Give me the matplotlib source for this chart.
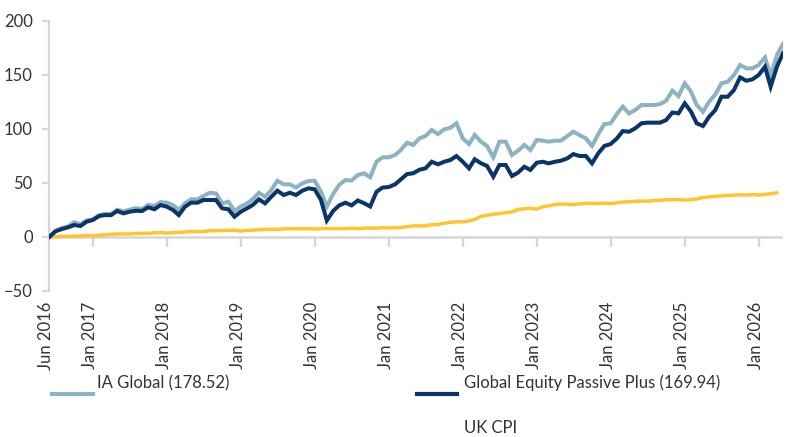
import matplotlib
matplotlib.use("Agg")
import matplotlib.pyplot as plt
import matplotlib.transforms as mtransforms
from matplotlib.lines import Line2D
import pandas as pd

plt.rcParams['font.family'] = ['Lato', 'DejaVu Sans']

start_month = "2016-06-01"

ia_global = [
    0, 5.5, 8, 9.5, 13.5, 11.5, 15, 16, 20, 21,
    21, 25, 23.5, 25, 26.5, 25.5, 29.5, 28.5, 32, 31.5,
    29.3, 24.7, 30.9, 34.6, 34.6, 37.7, 40.7, 40, 30.9, 32.4,
    23.8, 27.8, 30.9, 34.6, 40.7, 37, 43.2, 51.8, 48.5, 48.5,
    45.5, 49.4, 51.5, 51.8, 41.7, 28, 39.5, 48, 52.5, 52,
    57.1, 58.7, 55, 69.4, 73.5, 73.5, 75.6, 80.2, 87, 84.9,
    91, 93.2, 98.8, 95, 99.4, 100.9, 105, 91, 85.8, 94.2,
    88, 84, 73.5, 88, 88, 75.6, 79.6, 84.9, 80.2, 89.5,
    88.9, 88, 88.9, 88.9, 93.2, 97.2, 94, 91, 84, 95,
    104.3, 105, 113.6, 120.4, 114.2, 117.3, 121.9, 121.9, 121.9, 122.8,
    125.9, 135.2, 130.2, 142, 134.3, 121.9, 115.7, 125, 131.8, 142,
    143.5, 149.7, 159, 155.9, 155.9, 159, 166, 148.8, 168, 178.52,
]

global_equity = [
    0, 5, 7.1, 8.7, 10.8, 9.9, 13.9, 15.5, 19.2, 20,
    20, 23.8, 21.6, 23.1, 24, 23.8, 27.2, 25.4, 29.3, 27.8,
    24.7, 20, 27.8, 31.5, 31.5, 34, 34, 34, 26.3, 25.4,
    18.5, 23.1, 26.3, 29.3, 34.6, 30.9, 37, 42.6, 38.6, 40.7,
    38.6, 42.6, 44.8, 43.9, 34, 15, 23.8, 29, 31.5, 29,
    33.5, 31, 28, 41.5, 45.5, 46, 48.5, 53, 58, 58.7,
    62, 63.3, 69.4, 67, 69.4, 71, 74.7, 69.4, 63.3, 71.7,
    68, 65.5, 55.6, 66.4, 66.4, 56.2, 59.3, 64.8, 61.8, 68.5,
    69.4, 67.9, 69.4, 70.4, 72.5, 76.5, 74.7, 74.7, 67.9, 77.2,
    84, 85.8, 91, 97.8, 97.2, 100.3, 105, 105.6, 105.6, 105.6,
    108, 115, 114.2, 123.5, 115.7, 105, 102.5, 111, 117.3, 129.6,
    129.6, 135.8, 147.5, 144.4, 145.7, 149.7, 157.4, 138.9, 157.4, 169.94,
]

uk_cpi = [
    0.0, -0.1, 0.3, 0.4, 0.5, 0.7, 1.2, 0.7, 1.4, 1.8,
    2.2, 2.5, 2.5, 2.5, 3.1, 3.1, 3.2, 3.5, 3.9, 3.3,
    3.8, 3.9, 4.3, 4.7, 4.8, 4.8, 5.5, 5.6, 5.7, 5.9,
    6.1, 5.2, 5.8, 6.0, 6.4, 6.8, 6.8, 6.8, 7.2, 7.4,
    7.3, 7.3, 7.5, 7.1, 7.5, 7.6, 7.4, 7.4, 7.5, 7.9,
    7.4, 7.9, 8.0, 7.9, 8.3, 8.1, 8.3, 8.6, 9.3, 10.0,
    10.0, 10.0, 11.1, 11.3, 12.5, 13.3, 13.8, 13.7, 14.6, 15.9,
    18.9, 19.8, 20.8, 21.5, 22.3, 22.9, 25.3, 25.8, 26.3, 25.6,
    27.8, 28.6, 29.8, 30.2, 30.1, 29.6, 30.4, 30.9, 30.9, 30.7,
    31.2, 30.6, 31.4, 32.1, 32.4, 32.8, 33.0, 32.8, 33.5, 33.6,
    34.3, 34.2, 34.6, 33.8, 34.4, 34.8, 36.4, 36.7, 37.4, 37.8,
    38.3, 38.5, 38.8, 38.6, 39.0, 38.6, 39.2, 39.8, 40.7,
]

series_names = ["IA Global (178.52)", "Global Equity Passive Plus (169.94)", "UK CPI"]
colors = ["#8DB2C2", "#0B3468", "#FFC52F"]

dates = pd.date_range(start_month, periods=len(ia_global), freq="MS")
tick_dates = [dates[0]] + [d for d in dates if d.month == 1]
tick_labels = [d.strftime("%b %Y") for d in tick_dates]

W, H = 789, 437
fig = plt.figure(figsize=(W / 100, H / 100), dpi=100)
ax = fig.add_axes([49.5 / W, 1 - 290.7 / H, (783 - 49.5) / W, (290.7 - 20.7) / H])

ax.plot(dates[:len(uk_cpi)], uk_cpi, color=colors[2], lw=2.5, solid_capstyle='round', zorder=3)
ax.plot(dates, ia_global, color=colors[0], lw=2.9, solid_joinstyle='miter', zorder=4)
ax.plot(dates, global_equity, color=colors[1], lw=2.9, solid_joinstyle='miter', zorder=5)

ax.set_xlim(dates[0], dates[-1])
ax.set_ylim(-50, 200)
ax.set_yticks([-50, 0, 50, 100, 150, 200])

grey = "#D6D6D6"
for s in ["top", "right", "bottom"]:
    ax.spines[s].set_visible(False)
ax.spines["left"].set_color(grey)
ax.spines["left"].set_linewidth(1.6)

ax.axhline(0, color=grey, lw=1.8, zorder=2)
ax.vlines(tick_dates[1:], -10, 0, color=grey, lw=1.6, zorder=2)

ax.tick_params(axis="y", direction="out", length=5, width=1.6, color=grey,
               labelsize=12, labelcolor="#333333", pad=7)
ax.set_xticks(tick_dates)
ax.set_xticklabels(tick_labels, rotation=90, ha="center", va="top")
ax.tick_params(axis="x", length=0, labelsize=12, labelcolor="#333333", pad=8)
shift = mtransforms.ScaledTranslation(-3 / 100, 0, fig.dpi_scale_trans)
for lbl in ax.get_xticklabels():
    lbl.set_transform(lbl.get_transform() + shift)

# legend
leg_font = dict(fontsize=12, color="#333333", va="center", ha="left")
legend_items = [
    (52, 93, 394, 97, 383, 0),
    (417, 457, 394, 464, 383, 1),
    (417, 457, 439, 464, 428, 2),
]
for x0, x1, ly, tx, ty, k in legend_items:
    fig.add_artist(Line2D([x0 / W, x1 / W], [1 - ly / H, 1 - ly / H],
                          transform=fig.transFigure, color=colors[k], lw=3.0))
    fig.text(tx / W, 1 - ty / H, series_names[k], **leg_font)

fig.savefig("out.png", dpi=100)
